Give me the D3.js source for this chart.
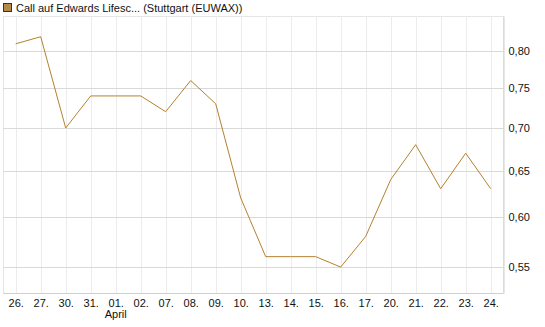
<!DOCTYPE html>
<html>
<head>
<meta charset="utf-8">
<script src="https://cdn.jsdelivr.net/npm/d3@7"></script>
<style>
body { margin: 0; background: #fff; }
text { font-family: "Liberation Sans", Arial, sans-serif; font-size: 11px; fill: #111; }
</style>
</head>
<body>
<div id="chart"></div>
<script>
// data
var days = ["26.", "27.", "30.", "31.", "01.", "02.", "07.", "08.", "09.", "10.",
            "13.", "14.", "15.", "16.", "17.", "20.", "21.", "22.", "23.", "24."];
var prices = [0.81, 0.82, 0.70, 0.74, 0.74, 0.74, 0.72, 0.76, 0.73, 0.62,
              0.56, 0.56, 0.56, 0.55, 0.58, 0.64, 0.68, 0.63, 0.67, 0.63];
var yTicks = [0.55, 0.60, 0.65, 0.70, 0.75, 0.80];
var monthLabel = { "01.": "April" };
var title = "Call auf Edwards Lifesc... (Stuttgart (EUWAX))";

var width = 545, height = 327;
// plot box (avoid the name "top", it is window.top)
var plotL = 3, plotR = 503, plotT = 16, plotB = 293;

var svg = d3.select("#chart").append("svg")
     .attr("width", width)
     .attr("height", height);

var x = d3.scalePoint().domain(days).range([15.7, 490.7]);
var y = d3.scaleLog().domain([0.5258, 0.85]).range([plotB, plotT]);

// frame
svg.append("rect")
     .attr("x", plotL + 0.5).attr("y", plotT + 0.5)
     .attr("width", plotR - plotL).attr("height", plotB - plotT)
     .attr("fill", "none")
     .attr("stroke", "#e6e6e6");

// vertical grid
svg.append("g").selectAll("line")
     .data(days)
     .enter().append("line")
     .attr("x1", function (d) { return Math.round(x(d)) + 0.5; })
     .attr("x2", function (d) { return Math.round(x(d)) + 0.5; })
     .attr("y1", plotT).attr("y2", plotB)
     .attr("stroke", "#ececec");

// horizontal grid
svg.append("g").selectAll("line")
     .data(yTicks)
     .enter().append("line")
     .attr("x1", plotL).attr("x2", plotR)
     .attr("y1", function (d) { return Math.round(y(d)) + 0.5; })
     .attr("y2", function (d) { return Math.round(y(d)) + 0.5; })
     .attr("stroke", "#d9d9d9");

// right axis
var yAxis = svg.append("g")
     .attr("transform", "translate(" + (plotR + 0.5) + ",0)")
     .call(d3.axisRight(y).tickValues(yTicks).tickSize(0).tickPadding(5)
          .tickFormat(function (d) { return d3.format(".2f")(d).replace(".", ","); }));
yAxis.select(".domain").attr("stroke", "#d0d0d0");
yAxis.selectAll("text").style("font-size", "11px").attr("fill", "#111");

// bottom axis
var xAxis = svg.append("g")
     .attr("transform", "translate(0," + (plotB + 0.5) + ")")
     .call(d3.axisBottom(x).tickSize(0).tickPadding(6));
xAxis.select(".domain").attr("stroke", "#d0d0d0").attr("d", "M" + plotL + ",0H" + plotR);
xAxis.selectAll("text").style("font-size", "11px").attr("fill", "#111");

svg.append("g").selectAll("text")
     .data(days.filter(function (d) { return monthLabel[d]; }))
     .enter().append("text")
     .attr("x", function (d) { return x(d); })
     .attr("y", 318)
     .attr("text-anchor", "middle")
     .text(function (d) { return monthLabel[d]; });

// price line
var valueline = d3.line()
     .x(function (d, i) { return x(days[i]); })
     .y(function (d) { return y(d); });

svg.append("path")
     .datum(prices)
     .attr("d", valueline)
     .attr("fill", "none")
     .attr("stroke", "#b5812f")
     .attr("stroke-width", 1);

// legend
svg.append("rect")
     .attr("x", 3.5).attr("y", 3.5)
     .attr("width", 8).attr("height", 8)
     .attr("fill", "#b5894a")
     .attr("stroke", "#333");
svg.append("text")
     .attr("x", 16).attr("y", 12)
     .text(title);
</script>
</body>
</html>
